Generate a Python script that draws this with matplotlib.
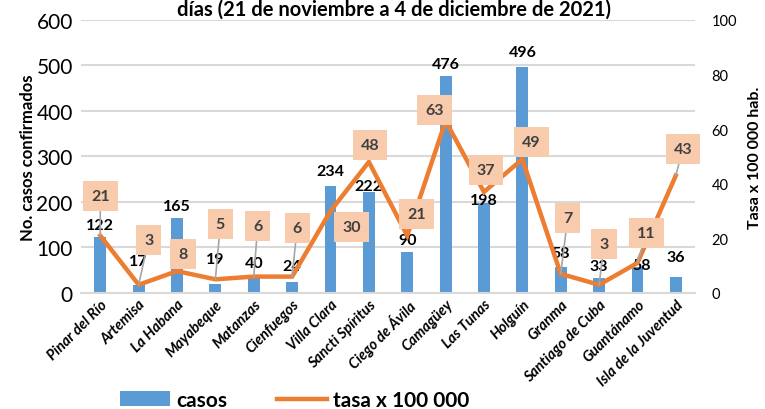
import numpy as np
import matplotlib.pyplot as plt

plt.rcParams['font.family'] = ['Lato', 'DejaVu Sans']

provincias = ['Pinar del Río', 'Artemisa', 'La Habana', 'Mayabeque', 'Matanzas',
              'Cienfuegos', 'Villa Clara', 'Sancti Spíritus', 'Ciego de Ávila',
              'Camagüey', 'Las Tunas', 'Holguín', 'Granma', 'Santiago de Cuba',
              'Guantánamo', 'Isla de la Juventud']
casos = [122, 17, 165, 19, 40, 24, 234, 222, 90, 476, 198, 496, 58, 33, 58, 36]
tasa = [21, 3, 8, 5, 6, 6, 30, 48, 21, 63, 37, 49, 7, 3, 11, 43]

# label offsets in pixels (dx, dy), dy positive = up
off_tasa = [(0, 40), (10, 45), (6, 17), (5, 55), (4, 51), (5, 49), (21, -16), (1, 17),
            (9, 22), (-11, 11), (2, 22), (9, 17), (7, 56), (5, 41), (9, 30), (7, 27)]
off_casos = [(0, 12), (0, 24), (0, 12), (0, 25), (0, 12), (0, 16), (0, 15), (0, 6),
             (0, 12), (0, 12), (0, 3), (0, 15), (0, 14), (0, 12), (4, 2), (0, 20)]

blue = '#5B9BD5'
orange = '#ED7D31'
px = 72 / 100

fig = plt.figure(figsize=(7.65, 4.1), dpi=100)
ax = fig.add_axes([0.106, 0.283, 0.8025, 0.666])
ax2 = ax.twinx()

x = np.arange(len(provincias))
ax.bar(x, casos, width=0.31, color=blue, zorder=2, label='casos')
ax.set_ylim(0, 600)
ax.set_xlim(-0.5, len(provincias) - 0.5)
ax.set_yticks(range(0, 601, 100))
ax.grid(axis='y', color='#D9D9D9', linewidth=1.5, zorder=0)
ax.set_axisbelow(True)
for s in ['top', 'left', 'right']:
    ax.spines[s].set_visible(False)
    ax2.spines[s].set_visible(False)
ax.spines['bottom'].set_color('#D9D9D9')
ax.spines['bottom'].set_linewidth(1.5)
ax2.spines['bottom'].set_visible(False)
ax.tick_params(axis='y', length=0, labelsize=15, colors='#000000', pad=6)
ax.tick_params(axis='x', length=0, pad=3)
ax.set_xticks(x)
ax.set_xticklabels(provincias, rotation=45, ha='right', rotation_mode='anchor',
                   fontsize=10.5, fontweight='bold', fontstyle='italic')
ax.set_ylabel('No. casos confirmados', fontsize=12, fontweight='bold', labelpad=0)

ax2.plot(x, tasa, color=orange, linewidth=3.2, zorder=3, label='tasa x 100 000',
         solid_joinstyle='miter')
ax2.set_ylim(0, 100)
ax2.set_yticks(range(0, 101, 20))
ax2.tick_params(axis='y', length=0, labelsize=10.5, pad=12)
ax2.set_ylabel('Tasa x 100 000 hab.', fontsize=11.5, fontweight='bold', labelpad=8)

for i, v in enumerate(casos):
    dx, dy = off_casos[i]
    ax.annotate(str(v), (x[i], v), xytext=(dx * px, dy * px), textcoords='offset points',
                ha='center', va='center', fontsize=11.5, fontweight='bold', zorder=5)

for i, v in enumerate(tasa):
    dx, dy = off_tasa[i]
    far = abs(dy) > 25
    ax2.annotate(str(v), (x[i], v), xytext=(dx * px, dy * px), textcoords='offset points',
                 ha='center', va='center', fontsize=11.5, fontweight='bold', color='#404040',
                 bbox=dict(boxstyle='square,pad=0.5', fc='#F8CBAD', ec='none'),
                 arrowprops=dict(arrowstyle='-', color='#A6A6A6', lw=1.2,
                                 shrinkA=0, shrinkB=0) if far else None,
                 zorder=6)

fig.text(0.515, 1 - 16 / 410, 'días (21 de noviembre a 4 de diciembre de 2021)',
         ha='center', va='baseline', fontsize=14.5, fontweight='bold')

h1, l1 = ax.get_legend_handles_labels()
h2, l2 = ax2.get_legend_handles_labels()
fig.legend(h1 + h2, l1 + l2, loc='center', bbox_to_anchor=(0.385, 0.022), ncol=2,
           frameon=False, prop={'size': 15, 'weight': 'bold'}, handlelength=2.4,
           columnspacing=2.4, handletextpad=0.3)

fig.savefig('out.png', dpi=100)
